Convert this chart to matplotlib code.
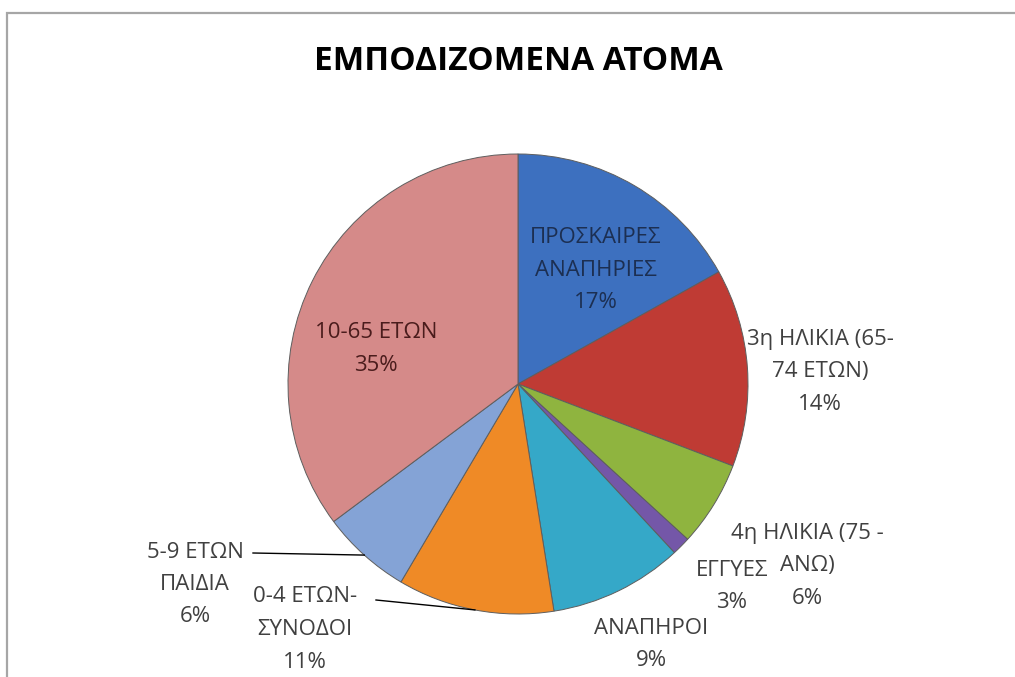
import numpy as np
import matplotlib.pyplot as plt
from matplotlib.patches import Rectangle

# slice shares (clockwise from 12 o'clock)
categories = ['ΠΡΟΣΚΑΙΡΕΣ\nΑΝΑΠΗΡΙΕΣ', '3η ΗΛΙΚΙΑ (65-\n74 ΕΤΩΝ)', '4η ΗΛΙΚΙΑ (75 -\nΑΝΩ)',
              'ΕΓΓΥΕΣ', 'ΑΝΑΠΗΡΟΙ', '0-4 ΕΤΩΝ-\nΣΥΝΟΔΟΙ', '5-9 ΕΤΩΝ\nΠΑΙΔΙΑ', '10-65 ΕΤΩΝ']
values = [16.9, 13.9, 6.0, 1.3, 9.4, 11.0, 6.3, 35.2]
pct_labels = ['17%', '14%', '6%', '3%', '9%', '11%', '6%', '35%']
colors = ['#3d70bf', '#bf3b34', '#8fb43f', '#7457a8', '#35a8c8', '#ef8a26', '#84a3d6', '#d58a89']

W, H = 1015, 677
fig = plt.figure(figsize=(W / 100, H / 100), dpi=100)
fig.patch.set_facecolor('white')

# chart frame
fig.patches.append(Rectangle((7 / W, -0.1), 1.2, 1 - 13 / H + 0.1, transform=fig.transFigure,
                             fill=False, edgecolor='#a6a6a6', linewidth=1.6))

cx, cy, r = 518, 384, 230
ax = fig.add_axes([(cx - r) / W, 1 - (cy + r) / H, 2 * r / W, 2 * r / H])
wedges, _ = ax.pie(values, colors=colors, startangle=90, counterclock=False,
                   wedgeprops=dict(edgecolor='#5e5e5e', linewidth=0.7))
ax.set_xlim(-1, 1)
ax.set_ylim(-1, 1)
ax.set_aspect('auto')
ax.axis('off')

fig.text(cx / W, 1 - 62 / H, 'ΕΜΠΟΔΙΖΟΜΕΝΑ ΑΤΟΜΑ', ha='center', va='center',
         fontsize=24, fontweight='bold', family=['Open Sans', 'DejaVu Sans'], color='black')

# label position: centre x and y of first line, in pixels
label_pos = [(596, 238), (820, 339), (807, 533), (732, 570), (651, 628),
             (305, 597), (195, 552), (376, 333)]
text_colors = ['#1c2f52', '#404040', '#404040', '#404040', '#404040', '#404040', '#404040', '#4a1c1c']
step = 32.5

for cat, pct, (px, py), tc in zip(categories, pct_labels, label_pos, text_colors):
    lines = cat.split('\n') + [pct]
    for i, line in enumerate(lines):
        fig.text(px / W, 1 - (py + i * step) / H, line, ha='center', va='center',
                 fontsize=16, family=['Open Sans', 'DejaVu Sans'], color=tc)

# leader lines for the two small bottom-left slices
leaders = {6: (253, 553), 5: (376, 600)}
for idx, (lx, ly) in leaders.items():
    w = wedges[idx]
    mid = np.deg2rad((w.theta1 + w.theta2) / 2)
    ex, ey = np.cos(mid), np.sin(mid)
    tx = (lx - cx) / r
    ty = (cy - ly) / r
    ax.plot([tx, ex], [ty, ey], color='black', linewidth=1.0, clip_on=False)

fig.savefig('out.png', dpi=100)
